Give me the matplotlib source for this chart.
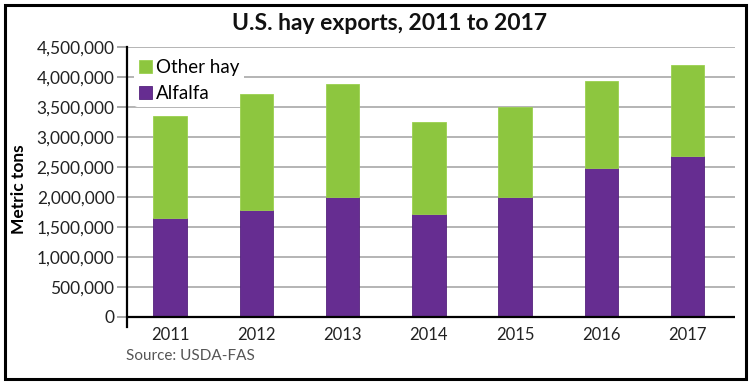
import matplotlib
matplotlib.use('Agg')
import matplotlib.pyplot as plt
from matplotlib.patches import Rectangle
from matplotlib.ticker import FuncFormatter

years = ['2011', '2012', '2013', '2014', '2015', '2016', '2017']
total = [3350000, 3710000, 3870000, 3240000, 3500000, 3920000, 4200000]
alfalfa = [1640000, 1770000, 2000000, 1710000, 2000000, 2480000, 2680000]
other_hay = [t - a for t, a in zip(total, alfalfa)]

green = '#8dc63f'
purple = '#662d91'

plt.rcParams['font.family'] = ['Lato', 'DejaVu Sans']

fig = plt.figure(figsize=(7.5, 3.84), dpi=100)
ax = fig.add_axes([0.1693, 0.1495, 0.8107, 0.7289])

x = range(len(years))
ax.bar(x, alfalfa, width=0.39, color=purple, edgecolor='#55237d', linewidth=0.6,
       label='Alfalfa', zorder=3)
ax.bar(x, other_hay, width=0.39, bottom=alfalfa, color=green, edgecolor='#9bd14f',
       linewidth=0.6, label='Other hay', zorder=3)

ax.set_xlim(-0.5, 6.55)
ax.set_ylim(-165000, 4500000)
ax.set_yticks(range(0, 4500001, 500000))
ax.yaxis.set_major_formatter(FuncFormatter(lambda v, p: f'{int(v):,}'))
ax.set_xticks(list(x))
ax.set_xticklabels(years)

ax.grid(axis='y', color='#a8a8a8', linewidth=1.2, zorder=0)
ax.axhline(0, color='black', linewidth=1.6, zorder=4)

for s in ['top', 'right', 'bottom']:
    ax.spines[s].set_visible(False)
ax.spines['left'].set_linewidth(1.6)
ax.spines['left'].set_zorder(5)

ax.tick_params(axis='y', length=7, width=1.1, color='#909090', pad=2,
               labelsize=12.5, labelcolor='#222222')
ax.yaxis.get_major_ticks()[0].tick1line.set_color('black')
ax.tick_params(axis='x', length=0, pad=0, labelsize=12, labelcolor='#222222')

ax.set_ylabel('Metric tons', fontsize=12.5, fontweight='bold')
ax.yaxis.set_label_coords(-0.165, 0.49)

handles, labels = ax.get_legend_handles_labels()
leg = ax.legend(handles[::-1], labels[::-1], loc='upper left',
                bbox_to_anchor=(0.0, 1.0), fontsize=13.5, frameon=True,
                handlelength=0.7, handleheight=0.7, handletextpad=0.2,
                labelspacing=0.5, borderpad=0.25, borderaxespad=0.4)
leg.get_frame().set_facecolor('white')
leg.get_frame().set_edgecolor('none')
leg.get_frame().set_alpha(1)
leg.set_zorder(2)

fig.text(0.52, 0.94, 'U.S. hay exports, 2011 to 2017', ha='center', va='center',
         fontsize=16.5, fontweight='bold', color='#111111')
fig.text(0.168, 0.073, 'Source: USDA-FAS', ha='left', va='center',
         fontsize=11, color='#555555')

fig.patches.append(Rectangle((0.006, 0.013), 0.988, 0.974, transform=fig.transFigure,
                             fill=False, edgecolor='black', linewidth=2.2))

fig.savefig('out.png', dpi=100)
